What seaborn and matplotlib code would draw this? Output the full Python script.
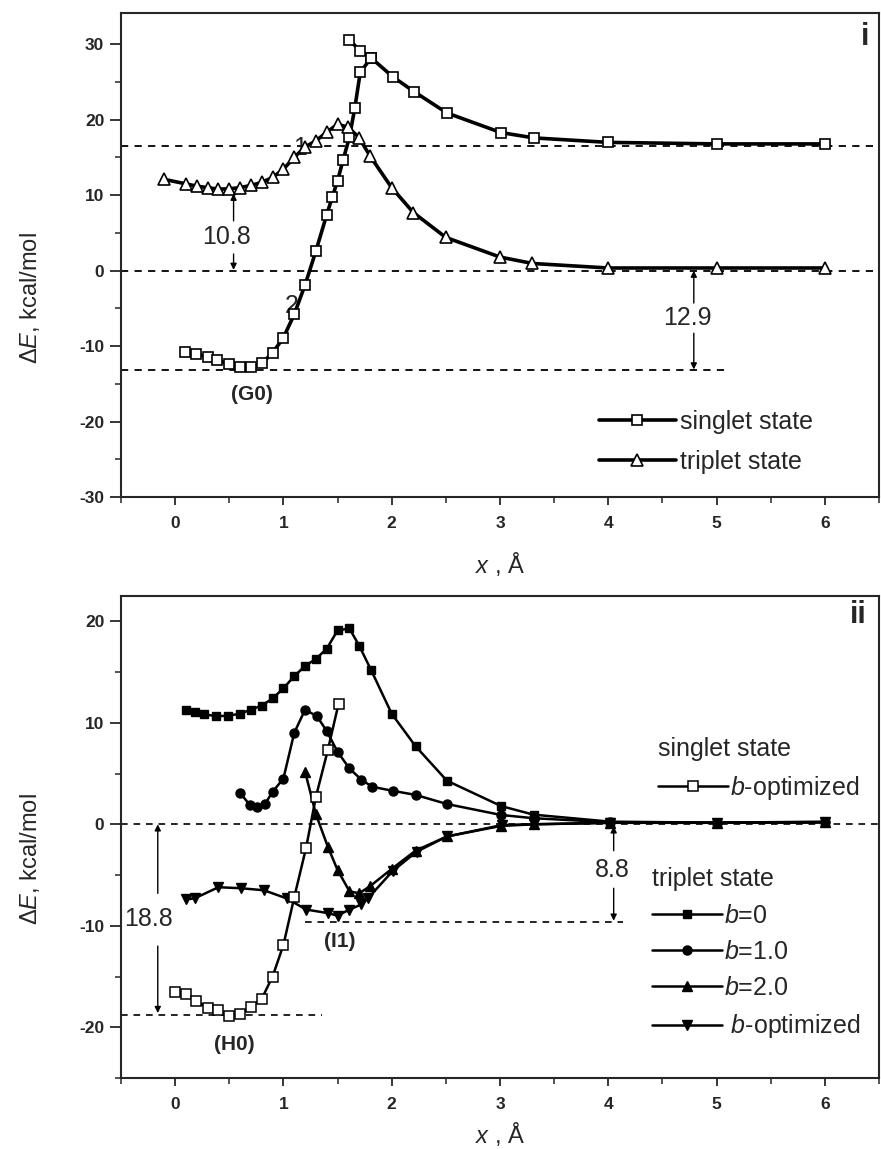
import numpy as np
import pandas as pd
import matplotlib
matplotlib.use("Agg")
import matplotlib.pyplot as plt
import seaborn as sns

# ---- panel i data ----
singlet_x = [0.09, 0.19, 0.3, 0.39, 0.5, 0.6, 0.7, 0.8, 0.9, 1.0, 1.1, 1.2, 1.3, 1.4,
             1.45, 1.5, 1.55, 1.61, 1.66, 1.71, 1.81, 2.01, 2.21, 2.51, 3.01, 3.31, 4.0, 5.0, 6.0]
singlet_y = [-10.8, -11.0, -11.5, -11.9, -12.4, -12.8, -12.8, -12.3, -10.9, -8.9, -5.8, -1.9,
             2.6, 7.4, 9.7, 11.9, 14.6, 17.7, 21.6, 26.3, 28.2, 25.7, 23.7, 20.9, 18.3, 17.6,
             17.0, 16.8, 16.8]
singlet_top_x = [1.61, 1.71, 1.81]
singlet_top_y = [30.6, 29.1, 28.2]

triplet_x = [-0.1, 0.1, 0.2, 0.3, 0.4, 0.5, 0.6, 0.7, 0.8, 0.9, 1.0, 1.1, 1.2, 1.3, 1.4,
             1.5, 1.6, 1.7, 1.8, 2.0, 2.2, 2.5, 3.0, 3.3, 4.0, 5.0, 6.0]
triplet_y = [12.1, 11.5, 11.2, 11.0, 10.8, 10.85, 11.0, 11.3, 11.7, 12.35, 13.45, 15.0,
             16.4, 17.2, 18.35, 19.4, 19.0, 17.6, 15.2, 11.0, 7.7, 4.4, 1.8, 0.95, 0.35,
             0.35, 0.35]

# ---- panel ii data ----
s_opt_x = [0.0, 0.1, 0.19, 0.3, 0.4, 0.5, 0.6, 0.7, 0.8, 0.9, 1.0, 1.1, 1.21, 1.3, 1.41, 1.51]
s_opt_y = [-16.5, -16.7, -17.4, -18.1, -18.3, -18.9, -18.7, -18.0, -17.2, -15.0, -11.9,
           -7.2, -2.3, 2.7, 7.3, 11.9]

b0_x = [0.1, 0.18, 0.27, 0.38, 0.49, 0.6, 0.7, 0.8, 0.9, 1.0, 1.1, 1.2, 1.3, 1.4, 1.5,
        1.61, 1.7, 1.81, 2.0, 2.22, 2.51, 3.01, 3.31, 4.02, 5.0, 6.0]
b0_y = [11.25, 11.1, 10.85, 10.65, 10.7, 10.9, 11.3, 11.7, 12.4, 13.4, 14.6, 15.6, 16.3,
        17.3, 19.1, 19.3, 17.6, 15.2, 10.9, 7.7, 4.3, 1.8, 0.95, 0.26, 0.16, 0.26]

b1_x = [0.6, 0.69, 0.76, 0.83, 0.9, 1.0, 1.1, 1.2, 1.31, 1.4, 1.5, 1.61, 1.72, 1.82,
        2.01, 2.22, 2.51, 3.01, 3.31, 4.02, 5.0, 6.0]
b1_y = [3.1, 1.9, 1.67, 2.0, 3.2, 4.5, 9.0, 11.3, 10.65, 9.2, 7.15, 5.5, 4.4, 3.7, 3.3,
        2.9, 2.0, 0.92, 0.6, 0.2, 0.15, 0.2]

b2_x = [1.2, 1.3, 1.41, 1.5, 1.61, 1.7, 1.8, 2.0, 2.22, 2.51, 3.01, 3.31, 4.02, 5.0, 6.0]
b2_y = [5.2, 1.0, -2.2, -4.5, -6.6, -6.8, -6.1, -4.4, -2.6, -1.2, -0.16, 0.0, 0.15, 0.15, 0.2]

bopt_x = [0.1, 0.18, 0.4, 0.61, 0.82, 1.03, 1.21, 1.41, 1.5, 1.61, 1.72, 1.78, 2.01,
          2.23, 2.51, 3.02, 3.31, 4.02, 5.0, 6.0]
bopt_y = [-7.4, -7.3, -6.2, -6.3, -6.5, -7.3, -8.4, -8.75, -9.0, -8.4, -7.9, -7.3, -4.6,
          -2.7, -1.2, -0.07, 0.0, 0.15, 0.15, 0.2]

# reference levels used by the guide lines / arrows
top_levels = [16.5, 0.0, -13.2]
bot_levels = [0.0, -9.6, -18.8]

sns.set_style("ticks")
plt.rcParams['font.family'] = ['Liberation Sans', 'DejaVu Sans']
plt.rcParams['mathtext.fontset'] = 'custom'
plt.rcParams['mathtext.rm'] = 'Liberation Sans'
plt.rcParams['mathtext.it'] = 'Liberation Sans:italic'
plt.rcParams['axes.linewidth'] = 1.5
plt.rcParams['axes.unicode_minus'] = False

fig = plt.figure(figsize=(8.81, 11.49), dpi=100)
ax1 = fig.add_axes([0.1373, 0.5675, 0.8604, 0.4215])
ax2 = fig.add_axes([0.1373, 0.0618, 0.8604, 0.4195])

dash = (0, (4, 3.5))
arrow = dict(arrowstyle='-|>', lw=1.0, color='black', mutation_scale=9,
             shrinkA=0, shrinkB=0)


def style_axis(ax, ylim, yticks):
    ax.set_xlim(-0.5, 6.5)
    ax.set_ylim(*ylim)
    ax.set_xticks(range(0, 7))
    ax.set_xticks(np.arange(-0.5, 6.6, 0.5), minor=True)
    ax.set_yticks(yticks)
    ax.set_yticks(np.arange(ylim[0], ylim[1], 5), minor=True)
    ax.tick_params(axis='both', which='major', direction='out', width=1.3,
                   labelsize=12.5)
    ax.tick_params(axis='x', which='major', length=6, pad=8)
    ax.tick_params(axis='y', which='major', length=8, pad=4)
    ax.tick_params(axis='both', which='minor', direction='out', width=1.1, length=4)
    for lab in ax.get_xticklabels() + ax.get_yticklabels():
        lab.set_fontweight('bold')
    for sp in ax.spines.values():
        sp.set_visible(True)
        sp.set_linewidth(1.5)
    ax.set_xlabel(r'$\mathit{x}$ , Å', fontsize=17)
    ax.set_ylabel(r'$\Delta\mathit{E}$, kcal/mol', fontsize=17)


# ---------------- panel i ----------------
ax = ax1
ax.hlines(top_levels[0], -0.5, 6.5, colors='black', linestyles=dash, lw=1.3, zorder=1)
ax.hlines(top_levels[1], -0.5, 6.5, colors='black', linestyles=dash, lw=1.3, zorder=1)
ax.hlines(top_levels[2], -0.5, 5.08, colors='black', linestyles=dash, lw=1.3, zorder=1)
ax.text(1.15, 16.3, '1', fontsize=18, ha='center', va='center', zorder=1)
ax.text(1.08, -4.7, '2', fontsize=18, ha='center', va='center', zorder=1)

sns.lineplot(x=singlet_x, y=singlet_y, ax=ax, sort=False, estimator=None, legend=False,
             color='black', lw=2.6, marker='s', ms=7.5, markerfacecolor='white',
             markeredgecolor='black', markeredgewidth=1.2, label='singlet state', zorder=3)
sns.lineplot(x=singlet_top_x, y=singlet_top_y, ax=ax, sort=False, estimator=None,
             legend=False, color='black', lw=2.6, marker='s', ms=7.5,
             markerfacecolor='white', markeredgecolor='black', markeredgewidth=1.2,
             zorder=3)
sns.lineplot(x=triplet_x, y=triplet_y, ax=ax, sort=False, estimator=None, legend=False,
             color='black', lw=2.6, marker='^', ms=8.5, markerfacecolor='white',
             markeredgecolor='black', markeredgewidth=1.2, label='triplet state', zorder=3)

# 10.8 gap
ax.annotate('', xy=(0.54, 10.2), xytext=(0.54, 6.6), arrowprops=arrow)
ax.annotate('', xy=(0.54, 0.1), xytext=(0.54, 2.2), arrowprops=arrow)
ax.text(0.47, 4.4, '10.8', fontsize=18, ha='center', va='center')
# 12.9 gap
ax.annotate('', xy=(4.79, 0.0), xytext=(4.79, -4.3), arrowprops=arrow)
ax.annotate('', xy=(4.79, -13.1), xytext=(4.79, -8.3), arrowprops=arrow)
ax.text(4.73, -6.3, '12.9', fontsize=18, ha='center', va='center')
ax.text(0.71, -16.4, '(G0)', fontsize=15, fontweight='bold', ha='center', va='center')
ax.text(6.37, 31.0, 'i', fontsize=22, fontweight='bold', ha='center', va='center')

h = [l for l in ax.get_lines() if not l.get_label().startswith('_')]
ax.legend(handles=h, loc='upper left', bbox_to_anchor=(0.63, 0.18), frameon=False,
          fontsize=18, handlelength=3.1, handletextpad=0.15, labelspacing=0.65,
          borderpad=0, borderaxespad=0)
style_axis(ax, (-30, 34.2), [-30, -20, -10, 0, 10, 20, 30])
ax.yaxis.set_label_coords(-0.104, 0.41)
ax.xaxis.set_label_coords(0.5, -0.11)

# ---------------- panel ii ----------------
ax = ax2
ax.hlines(bot_levels[0], -0.5, 6.5, colors='black', linestyles=dash, lw=1.2, zorder=1)
ax.hlines(bot_levels[1], 1.2, 4.14, colors='black', linestyles=dash, lw=1.2, zorder=1)
ax.hlines(bot_levels[2], -0.5, 1.36, colors='black', linestyles=dash, lw=1.2, zorder=1)

sns.lineplot(x=s_opt_x, y=s_opt_y, ax=ax, sort=False, estimator=None, legend=False,
             color='black', lw=1.8, marker='s', ms=6.5, markerfacecolor='white',
             markeredgecolor='black', markeredgewidth=1.1,
             label=r'$\mathit{b}$-optimized', zorder=4)
tri = [(b0_x, b0_y, 's', 5.5, r'$\mathit{b}$=0'),
       (b1_x, b1_y, 'o', 6.5, r'$\mathit{b}$=1.0'),
       (b2_x, b2_y, '^', 7.0, r'$\mathit{b}$=2.0'),
       (bopt_x, bopt_y, 'v', 7.0, r' $\mathit{b}$-optimized')]
for xs, ys, mk, ms, lab in tri:
    sns.lineplot(x=xs, y=ys, ax=ax, sort=False, estimator=None, legend=False,
                 color='black', lw=1.8, marker=mk, ms=ms, markerfacecolor='black',
                 markeredgecolor='black', markeredgewidth=1.0, label=lab, zorder=3)

ax.annotate('', xy=(-0.16, 0.0), xytext=(-0.16, -6.8), arrowprops=arrow)
ax.annotate('', xy=(-0.16, -18.6), xytext=(-0.16, -12.0), arrowprops=arrow)
ax.text(-0.25, -9.3, '18.8', fontsize=18, ha='center', va='center')
ax.annotate('', xy=(4.05, -0.2), xytext=(4.05, -2.6), arrowprops=arrow)
ax.annotate('', xy=(4.05, -9.5), xytext=(4.05, -6.3), arrowprops=arrow)
ax.text(4.04, -4.5, '8.8', fontsize=18, ha='center', va='center')
ax.text(1.52, -11.5, '(I1)', fontsize=15, fontweight='bold', ha='center', va='center')
ax.text(0.55, -21.7, '(H0)', fontsize=15, fontweight='bold', ha='center', va='center')
ax.text(6.31, 20.6, 'ii', fontsize=22, fontweight='bold', ha='center', va='center')

lines = ax.get_lines()
leg1 = ax.legend(handles=[lines[0]], title='singlet state', loc='upper left',
                 bbox_to_anchor=(0.703, 0.715), frameon=False, fontsize=18,
                 title_fontsize=18, alignment='left', handlelength=2.8,
                 handletextpad=0.1, labelspacing=0.49, borderpad=0.16, borderaxespad=0)
ax.add_artist(leg1)
ax.legend(handles=list(lines[1:5]), title='triplet state', loc='upper left',
          bbox_to_anchor=(0.695, 0.445), frameon=False, fontsize=18, title_fontsize=18,
          alignment='left', handlelength=2.8, handletextpad=0.1, labelspacing=0.49,
          borderpad=0.16, borderaxespad=0)
style_axis(ax, (-25, 22.5), [-20, -10, 0, 10, 20])
ax.yaxis.set_label_coords(-0.104, 0.455)
ax.xaxis.set_label_coords(0.5, -0.088)

fig.savefig('out.png', dpi=100)
